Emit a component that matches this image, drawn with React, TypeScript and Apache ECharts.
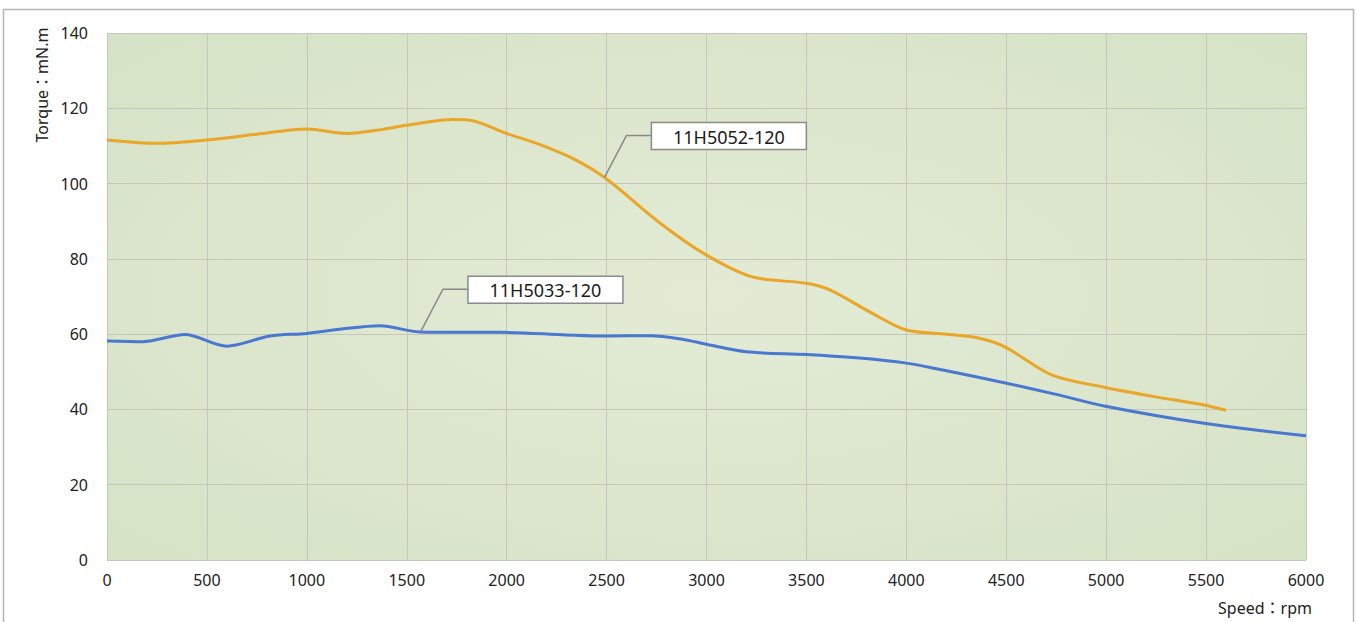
import React, { useEffect, useRef } from "react";
import * as echarts from "echarts";

const xTicks = [0, 500, 1000, 1500, 2000, 2500, 3000, 3500, 4000, 4500, 5000, 5500, 6000];
const yTicks = [0, 20, 40, 60, 80, 100, 120, 140];

const seriesAName = "11H5052-120";
const seriesASpeed = [0, 250, 500, 750, 1000, 1200, 1380, 1500, 1730, 1830, 2000, 2170, 2330, 2490, 2780, 3000, 3230, 3500, 3620, 3830, 4000, 4200, 4350, 4490, 4730, 4990, 5240, 5490, 5600];
const seriesATorque = [111.6, 110.7, 111.6, 113.1, 114.5, 113.3, 114.4, 115.5, 117.0, 116.7, 113.3, 110.3, 106.7, 101.6, 89, 81, 75.2, 73.5, 71.7, 65.5, 61.1, 60.0, 59.1, 56.7, 49.1, 45.9, 43.4, 41.2, 39.8];

const seriesBName = "11H5033-120";
const seriesBSpeed = [0, 180, 390, 600, 815, 1000, 1165, 1365, 1565, 1800, 1965, 2300, 2500, 2720, 2885, 3000, 3200, 3500, 3750, 4000, 4170, 4490, 4750, 4990, 5490, 6000];
const seriesBTorque = [58.2, 58.0, 59.9, 56.8, 59.5, 60.2, 61.3, 62.2, 60.6, 60.5, 60.5, 59.8, 59.5, 59.6, 58.6, 57.3, 55.3, 54.6, 53.7, 52.3, 50.6, 47.1, 44.0, 40.9, 36.3, 33.0];

const annotationA = [2489, 101.6];
const annotationB = [1571, 60.8];

const FONT = "'Noto Sans', 'Noto Sans CJK JP', sans-serif";

export default function App() {
  const ref = useRef<HTMLDivElement>(null);

  useEffect(() => {
    if (!ref.current) return;
    const chart = echarts.init(ref.current, null, { renderer: "svg" });
    const option: any = {
      animation: false,
      backgroundColor: "#ffffff",
      grid: {
        left: 107,
        top: 33,
        width: 1199,
        height: 527,
        show: true,
        borderWidth: 0,
        backgroundColor: new echarts.graphic.RadialGradient(0.5, 0.5, 0.75, [
          { offset: 0, color: "#e3ebd5" },
          { offset: 1, color: "#d5e2c5" },
        ]),
      },
      xAxis: {
        type: "value",
        min: xTicks[0],
        max: xTicks[xTicks.length - 1],
        interval: 500,
        axisLine: { show: false },
        axisTick: { show: false },
        axisLabel: {
          color: "#222",
          fontSize: 16,
          fontFamily: FONT,
          margin: 12,
          formatter: (v: number) => String(v),
        },
        splitLine: { show: true, lineStyle: { color: "#c4c8bb", width: 1 } },
      },
      yAxis: {
        type: "value",
        min: yTicks[0],
        max: yTicks[yTicks.length - 1],
        interval: 20,
        axisLine: { show: false },
        axisTick: { show: false },
        axisLabel: {
          color: "#222",
          fontSize: 16,
          fontFamily: FONT,
          margin: 19,
          formatter: (v: number) => String(v),
        },
        splitLine: { show: true, lineStyle: { color: "#c4c8bb", width: 1 } },
      },
      series: [
        {
          name: seriesAName,
          type: "line",
          smooth: 0.3,
          symbol: "none",
          lineStyle: { color: "#e9a627", width: 3 },
          data: seriesASpeed.map((s, i) => [s, seriesATorque[i]]),
        },
        {
          name: seriesBName,
          type: "line",
          smooth: 0.3,
          symbol: "none",
          lineStyle: { color: "#4a78d0", width: 3 },
          data: seriesBSpeed.map((s, i) => [s, seriesBTorque[i]]),
        },
      ],
    };
    chart.setOption(option);

    const callout = (anchor: number[], label: string) => {
      const p = chart.convertToPixel({ gridIndex: 0 }, anchor) as number[];
      const [ax, ay] = p;
      return [
        {
          type: "polyline",
          shape: { points: [[ax, ay], [ax + 22, ay - 42], [ax + 47, ay - 42]] },
          style: { stroke: "#8a8a8a", lineWidth: 1.5, fill: "none" },
          z: 10,
        },
        {
          type: "rect",
          shape: { x: ax + 47, y: ay - 55, width: 155, height: 27 },
          style: { fill: "#ffffff", stroke: "#8a8a8a", lineWidth: 1.5 },
          z: 10,
        },
        {
          type: "text",
          x: ax + 47 + 77.5,
          y: ay - 55 + 14,
          style: {
            text: label,
            fill: "#1a1a1a",
            fontSize: 18,
            fontFamily: FONT,
            align: "center",
            verticalAlign: "middle",
          },
          z: 11,
        },
      ];
    };

    chart.setOption({
      graphic: [
        {
          type: "rect",
          shape: { x: 3.5, y: 9.5, width: 1350, height: 640 },
          style: { fill: "none", stroke: "#b4b4b4", lineWidth: 1.5 },
          z: -1,
          silent: true,
        },
        {
          type: "text",
          x: 42,
          y: 85,
          rotation: Math.PI / 2,
          style: {
            text: "Torque：mN.m",
            fill: "#222",
            fontSize: 16,
            fontFamily: FONT,
            align: "center",
            verticalAlign: "middle",
          },
        },
        {
          type: "text",
          x: 1312,
          y: 608,
          style: {
            text: "Speed：rpm",
            fill: "#222",
            fontSize: 16,
            fontFamily: FONT,
            align: "right",
            verticalAlign: "middle",
          },
        },
        ...callout(annotationA, seriesAName),
        ...callout(annotationB, seriesBName),
      ],
    });

    return () => chart.dispose();
  }, []);

  return (
    <div
      ref={ref}
      style={{ position: "fixed", left: 0, top: 0, width: 1357, height: 622 }}
    />
  );
}
